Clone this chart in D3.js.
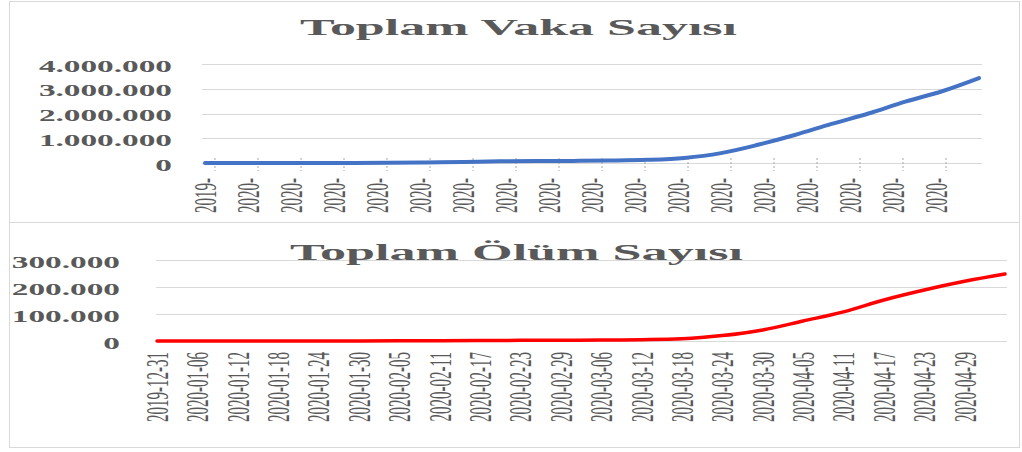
<!DOCTYPE html>
<html>
<head>
<meta charset="utf-8">
<script src="https://cdn.jsdelivr.net/npm/d3@7"></script>
<style>
  body { margin: 0; background: #fff; }
  text { font-family: "Liberation Serif", "Times New Roman", serif; fill: #595959; }
</style>
</head>
<body>
<script>
// data points every 6 days, global cumulative totals
const dates = ["2019-12-31","2020-01-06","2020-01-12","2020-01-18","2020-01-24","2020-01-30",
  "2020-02-05","2020-02-11","2020-02-17","2020-02-23","2020-02-29","2020-03-06","2020-03-12",
  "2020-03-18","2020-03-24","2020-03-30","2020-04-05","2020-04-11","2020-04-17","2020-04-23",
  "2020-04-29","2020-05-05"];
const cases = [27, 59, 60, 120, 900, 8200, 24500, 43100, 71300, 78600, 85400, 98000, 127000,
  205000, 400000, 735000, 1130000, 1580000, 2000000, 2480000, 2900000, 3430000];
const deaths = [0, 0, 1, 3, 26, 170, 490, 1110, 1770, 2460, 2940, 3350, 4700,
  8000, 20000, 41000, 74000, 108000, 152000, 189000, 221000, 248000];

// tick labels
const bottomTickLabels = dates.slice(0, 21);
const topTickDates = ["2019-12-31","2020-01-07","2020-01-14","2020-01-21","2020-01-28","2020-02-04",
  "2020-02-11","2020-02-18","2020-02-25","2020-03-03","2020-03-10","2020-03-17","2020-03-24",
  "2020-03-31","2020-04-07","2020-04-14","2020-04-21","2020-04-28"];
const casesTicks = [0, 1000000, 2000000, 3000000, 4000000];
const deathsTicks = [0, 100000, 200000, 300000];

const parse = d3.timeParse("%Y-%m-%d");
const trLocale = d3.formatLocale({decimal: ",", thousands: ".", grouping: [3], currency: ["", " ₺"]});
const fmt = trLocale.format(",");
const SX = 2.08; // the picture is stretched horizontally

const svg = d3.select("body").append("svg")
  .attr("width", 1022).attr("height", 452);

//panel borders
svg.append("rect").attr("x", 9.5).attr("y", 1.5).attr("width", 1010).attr("height", 221)
  .attr("fill", "none").attr("stroke", "#d9d9d9");
svg.append("rect").attr("x", 9.5).attr("y", 222.5).attr("width", 1010).attr("height", 225)
  .attr("fill", "none").attr("stroke", "#d9d9d9");

function drawChart(opt){
  const x = d3.scaleTime().domain([parse(dates[0]), parse(dates[dates.length-1])]).range(opt.xr);
  const y = d3.scaleLinear().domain([0, opt.ymax]).range(opt.yr);
  const g = svg.append("g");

  //grid lines
  g.selectAll("line.grid").data(opt.yticks).enter().append("line")
    .attr("x1", opt.gx[0]).attr("x2", opt.gx[1])
    .attr("y1", d => Math.round(y(d)) + 0.5).attr("y2", d => Math.round(y(d)) + 0.5)
    .attr("stroke", "#d9d9d9").attr("stroke-width", 1);

  //y labels
  g.selectAll("text.ylab").data(opt.yticks).enter().append("text")
    .attr("transform", d => "translate(" + opt.ylabX + "," + (y(d) + 2) + ") scale(" + SX + ",1)")
    .attr("text-anchor", "end").attr("dy", "0.35em")
    .attr("font-size", 16).attr("font-weight", "bold")
    .text(d => fmt(d));

  //x labels
  g.selectAll("text.xlab").data(opt.xticks).enter().append("text")
    .attr("transform", d => "translate(" + x(parse(d)) + "," + opt.xlabY + ") scale(" + SX + ",1) rotate(-90)")
    .attr("text-anchor", "end").attr("dy", "0.35em")
    .attr("font-size", 15)
    .text(opt.xtext);

  if (opt.tickMarks){
    g.selectAll("line.tick").data(opt.xticks).enter().append("line")
      .attr("x1", d => x(parse(d)) + 10).attr("x2", d => x(parse(d)) + 10)
      .attr("y1", y(0) - 5).attr("y2", y(0) + 8)
      .attr("stroke", "#a6a6a6").attr("stroke-dasharray", "2,2");
  }

  //title
  g.append("text")
    .attr("x", opt.title[1]).attr("y", opt.title[2])
    .attr("textLength", opt.title[3]).attr("lengthAdjust", "spacingAndGlyphs")
    .attr("font-size", opt.title[4]).attr("font-weight", "bold")
    .text(opt.title[0]);

  //line
  const line = d3.line()
    .x((d, i) => x(parse(dates[i])))
    .y(d => y(d))
    .curve(d3.curveMonotoneX);
  g.append("path").datum(opt.values)
    .attr("d", line)
    .attr("fill", "none").attr("stroke", opt.color)
    .attr("stroke-width", opt.lw).attr("stroke-linecap", "round");
}

drawChart({
  values: cases, ymax: 4000000, yticks: casesTicks,
  xr: [205, 979], yr: [163, 64], gx: [202, 982], ylabX: 172,
  xticks: topTickDates, xlabY: 178, xtext: d => d.slice(0, 5), tickMarks: true,
  title: ["Toplam Vaka Sayısı", 300, 35, 437, 23],
  color: "#4472c4", lw: 4
});

drawChart({
  values: deaths, ymax: 300000, yticks: deathsTicks,
  xr: [157, 1005], yr: [341, 260], gx: [156, 1007], ylabX: 120,
  xticks: bottomTickLabels, xlabY: 352, xtext: d => d, tickMarks: false,
  title: ["Toplam Ölüm Sayısı", 290, 260, 453, 24],
  color: "#ff0000", lw: 3.5
});
</script>
</body>
</html>
